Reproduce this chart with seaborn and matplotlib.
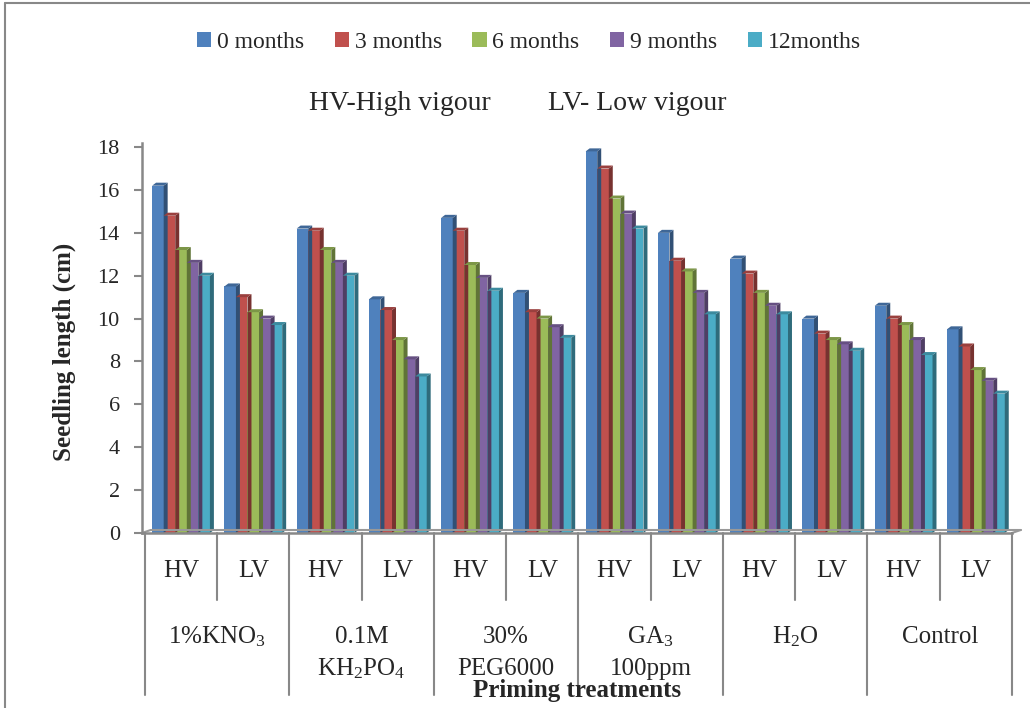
import numpy as np
import pandas as pd
import seaborn as sns
import matplotlib.pyplot as plt
from matplotlib.patches import Polygon, Patch
from matplotlib.lines import Line2D
import matplotlib.colors as mcolors

# data
treatments = ['1%KNO$_3$', '0.1M\nKH$_2$PO$_4$', '30%\nPEG6000', 'GA$_3$\n100ppm', 'H$_2$O', 'Control']
vigour = ['HV', 'LV']
periods = ['0 months', '3 months', '6 months', '9 months', '12months']
colors = ['#4F81BD', '#C0504D', '#9BBB59', '#8064A2', '#4BACC6']

m0 = [16.2, 11.5, 14.2, 10.9, 14.7, 11.2, 17.8, 14.0, 12.8, 10.0, 10.6, 9.5]
m3 = [14.8, 11.0, 14.1, 10.4, 14.1, 10.3, 17.0, 12.7, 12.1, 9.3, 10.0, 8.7]
m6 = [13.2, 10.3, 13.2, 9.0, 12.5, 10.0, 15.6, 12.2, 11.2, 9.0, 9.7, 7.6]
m9 = [12.6, 10.0, 12.6, 8.1, 11.9, 9.6, 14.9, 11.2, 10.6, 8.8, 9.0, 7.1]
m12 = [12.0, 9.7, 12.0, 7.3, 11.3, 9.1, 14.2, 10.2, 10.2, 8.5, 8.3, 6.5]

groups = [f'{t} {v}' for t in treatments for v in vigour]
rows = []
for period, vals in zip(periods, [m0, m3, m6, m9, m12]):
    for g, v in zip(groups, vals):
        rows.append({'group': g, 'period': period, 'length': v})
df = pd.DataFrame(rows)

sns.set_style('white')
plt.rcParams['font.family'] = ['Liberation Serif', 'DejaVu Serif']
plt.rcParams['mathtext.fontset'] = 'custom'
plt.rcParams['mathtext.rm'] = 'Liberation Serif'
plt.rcParams['mathtext.default'] = 'rm'

fig = plt.figure(figsize=(10.30, 7.08), dpi=100)
axh = 533 - 142.8
axw = 1012 - 142
ax = fig.add_axes([142 / 1030, 1 - 533 / 708, axw / 1030, axh / 708])

sns.barplot(data=df, x='group', y='length', hue='period', palette=colors,
            order=groups, hue_order=periods, width=0.8, saturation=1,
            legend=False, ax=ax)

# fake 3D side and top faces, computed from the bars seaborn drew
dx, dy = 0.055, 0.14
for bar in list(ax.patches):
    x0 = bar.get_x()
    x1 = x0 + bar.get_width()
    h = bar.get_height()
    c = np.array(mcolors.to_rgb(bar.get_facecolor()))
    bar.set_edgecolor('none')
    side = Polygon([(x1, 0), (x1 + dx, dy), (x1 + dx, h + dy), (x1, h)],
                   closed=True, facecolor=c * 0.62, edgecolor='none')
    top = Polygon([(x0, h), (x0 + dx, h + dy), (x1 + dx, h + dy), (x1, h)],
                  closed=True, facecolor=c * 0.8, edgecolor='none')
    ax.add_patch(side)
    ax.add_patch(top)

ax.set_xlim(-0.54, len(groups) - 0.5)
ax.set_ylim(0, 18.2)
ax.set_yticks(range(0, 19, 2))
ax.tick_params(axis='y', labelsize=16, length=6, width=1.5, color='#888888',
               direction='out', left=True, pad=10)
ax.set_xticks([])
ax.set_xlabel('')
ax.set_ylabel('Seedling length (cm)', fontsize=18, fontweight='bold')
ax.yaxis.set_label_coords((76 - 142) / axw, (533 - 352) / axh)
for s in ['top', 'right']:
    ax.spines[s].set_visible(False)
for s in ['left', 'bottom']:
    ax.spines[s].set_color('#888888')
    ax.spines[s].set_linewidth(1.8)

# floor back edge
ax.plot([-0.54, -0.54 + 0.12], [0, dy], color='#999999', lw=1.5, clip_on=False)
ax.plot([-0.54 + 0.12, len(groups) - 0.5 + 0.12], [dy, dy], color='#999999', lw=1.5, clip_on=False)
ax.plot([len(groups) - 0.5, len(groups) - 0.5 + 0.12], [0, dy], color='#999999', lw=1.5, clip_on=False)

# multi-level category axis
trans = ax.get_xaxis_transform()
for i in range(len(groups)):
    ax.text(i, -38 / axh, vigour[i % 2], transform=trans, ha='center', va='center', fontsize=18)
for i in range(len(groups) + 1):
    x = i - 0.5
    low = -162 / axh if i % 2 == 0 else -67 / axh
    ax.plot([x, x], [0, low], transform=trans, color='#888888', lw=1.5, clip_on=False)
for k, t in enumerate(treatments):
    for j, line in enumerate(t.split('\n')):
        ax.text(2 * k + 0.5, -(104 + 32 * j) / axh, line, transform=trans, ha='center',
                va='center', fontsize=18)
ax.text(0.5, -157 / axh, 'Priming treatments', transform=ax.transAxes, ha='center',
        va='center', fontsize=18, fontweight='bold')

# legend and headers
handles = [Patch(facecolor=c, edgecolor='none') for c in colors]
fig.legend(handles, periods, loc='center', bbox_to_anchor=(529 / 1030, 1 - 42 / 708),
           ncol=5, frameon=False, fontsize=17, handlelength=0.6, handleheight=0.6,
           handletextpad=0.25, columnspacing=1.3)
fig.text(309 / 1030, 1 - 103 / 708, 'HV-High vigour', fontsize=20, va='center', ha='left')
fig.text(548 / 1030, 1 - 103 / 708, 'LV- Low vigour', fontsize=20, va='center', ha='left')

# outer chart frame
fig.add_artist(Line2D([5 / 1030, 5 / 1030], [0, 1 - 3 / 708], color='#888888', lw=1.5))
fig.add_artist(Line2D([5 / 1030, 1], [1 - 3 / 708, 1 - 3 / 708], color='#888888', lw=1.5))

fig.savefig('out.png', dpi=100)
